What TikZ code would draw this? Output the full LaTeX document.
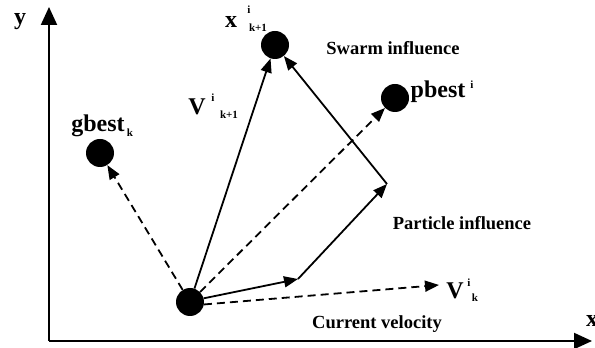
\documentclass[tikz,border=0pt]{standalone}
\usepackage{fontspec}
\setmainfont{Liberation Serif}
\usetikzlibrary{arrows.meta}
\tikzset{
  dot/.style={circle,fill=black,inner sep=0pt,minimum size=28pt},
  axis/.style={line width=2pt,-{Triangle[length=18pt,width=16pt]}},
  vec/.style={line width=1.8pt,-{Triangle[length=14pt,width=11pt]}},
  dvec/.style={vec,dash pattern=on 8pt off 5pt},
  big/.style={font=\fontsize{24}{24}\selectfont\bfseries,inner sep=0pt},
  small/.style={font=\fontsize{11}{11}\selectfont\bfseries,inner sep=0pt},
  note/.style={font=\fontsize{18.5}{18.5}\selectfont\bfseries,inner sep=0pt}
}
\begin{document}
\begin{tikzpicture}[x=1pt,y=1pt]
\useasboundingbox (0,0) rectangle (595,348);
% axes
\coordinate (orig) at (49,7);
\coordinate (ytip) at (49,341);
\coordinate (xtip) at (592,7);
\draw[axis] (orig) -- (ytip);
\draw[axis] (orig) -- (xtip);
\node[big] (ylab) at (20,326) {y};
\node[big] (xlab) at (592,27) {x};
% points
\node[dot] (O) at (190,46) {};
\node[dot] (X) at (275,303) {};
\node[dot] (P) at (395,250) {};
\node[dot] (G) at (100,195) {};
\coordinate (M) at (298,69);
\coordinate (C) at (387,164);
\coordinate (vk) at (439,63);
% vectors
\draw[dvec] (O) -- (G);
\draw[dvec] (O) -- (P);
\draw[dvec] (O.-10) -- (vk);
\draw[vec] (O) -- (X);
\draw[vec] (O.15) -- (M);
\draw[vec] (M) -- (C);
\draw[vec] (C) -- (X);
% labels
\node[big] (xl) at (231,326) {x};
\node[small] (xli) at (249,338) {i};
\node[small] (xlk) at (258,320) {k+1};
\node[note] (sw) at (393,300) {Swarm influence};
\node[big] (pl) at (438,256) {pbest};
\node[small] (pli) at (472,263) {i};
\node[big] (gl) at (98,222) {gbest};
\node[small] (glk) at (130,215) {k};
\node[big] (vl) at (197,241) {V};
\node[small] (vli) at (213,250) {i};
\node[small] (vlk) at (229,233) {k+1};
\node[note] (pi) at (462,125) {Particle influence};
\node[big] (vkl) at (455,57) {V};
\node[small] (vkli) at (469,65) {i};
\node[small] (vklk) at (475,50) {k};
\node[note] (cv) at (377,24) {Current velocity};
\end{tikzpicture}
\end{document}
